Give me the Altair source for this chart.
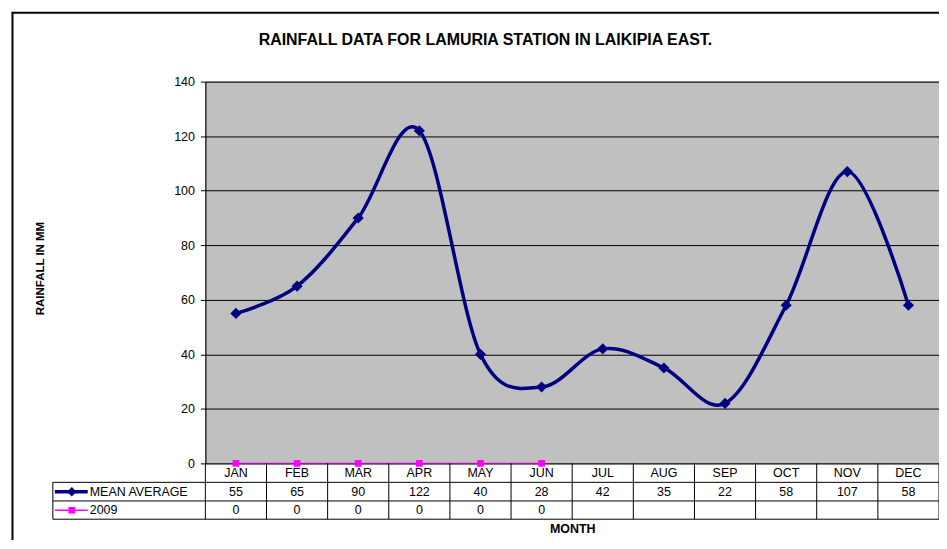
import altair as alt
import pandas as pd

# ---------------- data ----------------
months = ["JAN", "FEB", "MAR", "APR", "MAY", "JUN", "JUL", "AUG", "SEP", "OCT", "NOV", "DEC"]
mean_average = [55, 65, 90, 122, 40, 28, 42, 35, 22, 58, 107, 58]
rain_2009 = [0, 0, 0, 0, 0, 0, None, None, None, None, None, None]
y_ticks = [0, 20, 40, 60, 80, 100, 120, 140]

title_text = "RAINFALL DATA FOR LAMURIA STATION IN LAIKIPIA EAST."
y_title = "RAINFALL IN MM"
x_title = "MONTH"
series_names = ["MEAN AVERAGE", "2009"]

# ---------------- style ----------------
FONT = "Liberation Sans"
NAVY = "#000080"
MAGENTA = "#FF00FF"
W, H = 736, 383
FS = 12.5
ROW1, ROW2, ROW3 = 392.5, 411.5, 430   # text centres of the data-table rows
LINE2, LINE3, LINE4 = 402, 420.7, 439  # horizontal table lines
LEFT_COL = -153

df = pd.DataFrame({
    "month": months,
    "pos": [i + 0.5 for i in range(len(months))],
    "value": mean_average,
    "mean_lbl": [str(v) for v in mean_average],
    "r2009_lbl": ["" if v is None else str(v) for v in rain_2009],
})
d9 = pd.DataFrame({
    "pos": [i + 0.5 for i, v in enumerate(rain_2009) if v is not None],
    "value": [v for v in rain_2009 if v is not None],
})
bdf = pd.DataFrame({"b": list(range(len(months) + 1))})
one = pd.DataFrame({"k": [0]})

xs = alt.Scale(domain=[0, len(months)])
ys = alt.Scale(domain=[0, 140], nice=False)
x = alt.X("pos:Q", scale=xs, axis=None)
y = alt.Y("value:Q", scale=ys, axis=alt.Axis(
    values=y_ticks, grid=True, gridColor="black", gridWidth=1, gridOpacity=1,
    domainColor="black", domainWidth=1, tickColor="black", tickSize=5,
    labelPadding=6, labelFont=FONT, labelFontSize=FS, labelColor="black",
    title=None))

layers = []

# mean average series
layers.append(alt.Chart(df).mark_line(color=NAVY, strokeWidth=3.5, interpolate="cardinal")
              .encode(x=x, y=y))
layers.append(alt.Chart(df).mark_point(shape="diamond", filled=True, size=125, color=NAVY, opacity=1)
              .encode(x=x, y=y))
# 2009 series
layers.append(alt.Chart(d9).mark_line(color=MAGENTA, strokeWidth=1.8, opacity=0.5)
              .encode(x=x, y=y))
layers.append(alt.Chart(d9).mark_square(size=45, color=MAGENTA, opacity=1)
              .encode(x=x, y=y))

# data table text
txt = dict(font=FONT, fontSize=FS, color="black", baseline="middle", align="center")
layers.append(alt.Chart(df).mark_text(**txt).encode(x=x, y=alt.value(ROW1), text="month:N"))
layers.append(alt.Chart(df).mark_text(**txt).encode(x=x, y=alt.value(ROW2), text="mean_lbl:N"))
layers.append(alt.Chart(df).mark_text(**txt).encode(x=x, y=alt.value(ROW3), text="r2009_lbl:N"))

# data table grid
layers.append(alt.Chart(bdf).mark_rule(color="black", strokeWidth=1)
              .encode(x=alt.X("b:Q", scale=xs, axis=None), y=alt.value(H), y2=alt.value(LINE4)))
for yy in (LINE2, LINE3, LINE4):
    layers.append(alt.Chart(one).mark_rule(color="black", strokeWidth=1)
                  .encode(x=alt.value(LEFT_COL), x2=alt.value(W), y=alt.value(yy)))
layers.append(alt.Chart(one).mark_rule(color="black", strokeWidth=1)
              .encode(x=alt.value(LEFT_COL), y=alt.value(LINE2), y2=alt.value(LINE4)))

# legend keys in the table
layers.append(alt.Chart(one).mark_rule(color=NAVY, strokeWidth=3.5)
              .encode(x=alt.value(-151), x2=alt.value(-118), y=alt.value(ROW2)))
layers.append(alt.Chart(one).mark_point(shape="diamond", filled=True, size=90, color=NAVY, opacity=1)
              .encode(x=alt.value(-134), y=alt.value(ROW2)))
layers.append(alt.Chart(one).mark_rule(color=MAGENTA, strokeWidth=1.5)
              .encode(x=alt.value(-151), x2=alt.value(-118), y=alt.value(ROW3)))
layers.append(alt.Chart(one).mark_square(size=45, color=MAGENTA, opacity=1)
              .encode(x=alt.value(-134), y=alt.value(ROW3)))
layers.append(alt.Chart(one).mark_text(font=FONT, fontSize=FS, color="black", baseline="middle", align="left")
              .encode(x=alt.value(-116), y=alt.value(ROW2), text=alt.value(series_names[0])))
layers.append(alt.Chart(one).mark_text(font=FONT, fontSize=FS, color="black", baseline="middle", align="left")
              .encode(x=alt.value(-116), y=alt.value(ROW3), text=alt.value(series_names[1])))

# titles
layers.append(alt.Chart(one).mark_text(font=FONT, fontSize=16, fontWeight="bold", color="black",
                                       baseline="middle", align="center")
              .encode(x=alt.value(281), y=alt.value(-42), text=alt.value(title_text)))
layers.append(alt.Chart(one).mark_text(font=FONT, fontSize=11.5, fontWeight="bold", color="black",
                                       baseline="middle", align="center", angle=270)
              .encode(x=alt.value(-164.5), y=alt.value(187.5), text=alt.value(y_title)))
layers.append(alt.Chart(one).mark_text(font=FONT, fontSize=12.5, fontWeight="bold", color="black",
                                       baseline="middle", align="center")
              .encode(x=alt.value(368.5), y=alt.value(449), text=alt.value(x_title)))

# outer chart border (left and top visible in the frame)
layers.append(alt.Chart(one).mark_rule(color="black", strokeWidth=2)
              .encode(x=alt.value(-193.5), y=alt.value(-69), y2=alt.value(H + 120)))
layers.append(alt.Chart(one).mark_rule(color="black", strokeWidth=2)
              .encode(x=alt.value(-194.5), x2=alt.value(W + 20), y=alt.value(-69)))

chart = alt.layer(*layers).properties(
    width=W, height=H,
    autosize=alt.AutoSizeParams(type="none"),
    padding={"left": 198, "top": 73, "right": 0, "bottom": 76},
    background="white",
).configure(
    font=FONT
).configure_view(
    fill="#C0C0C0", stroke="#808080", strokeWidth=1
)

chart.save("out.html", embed_options={"renderer": "svg", "actions": False})
